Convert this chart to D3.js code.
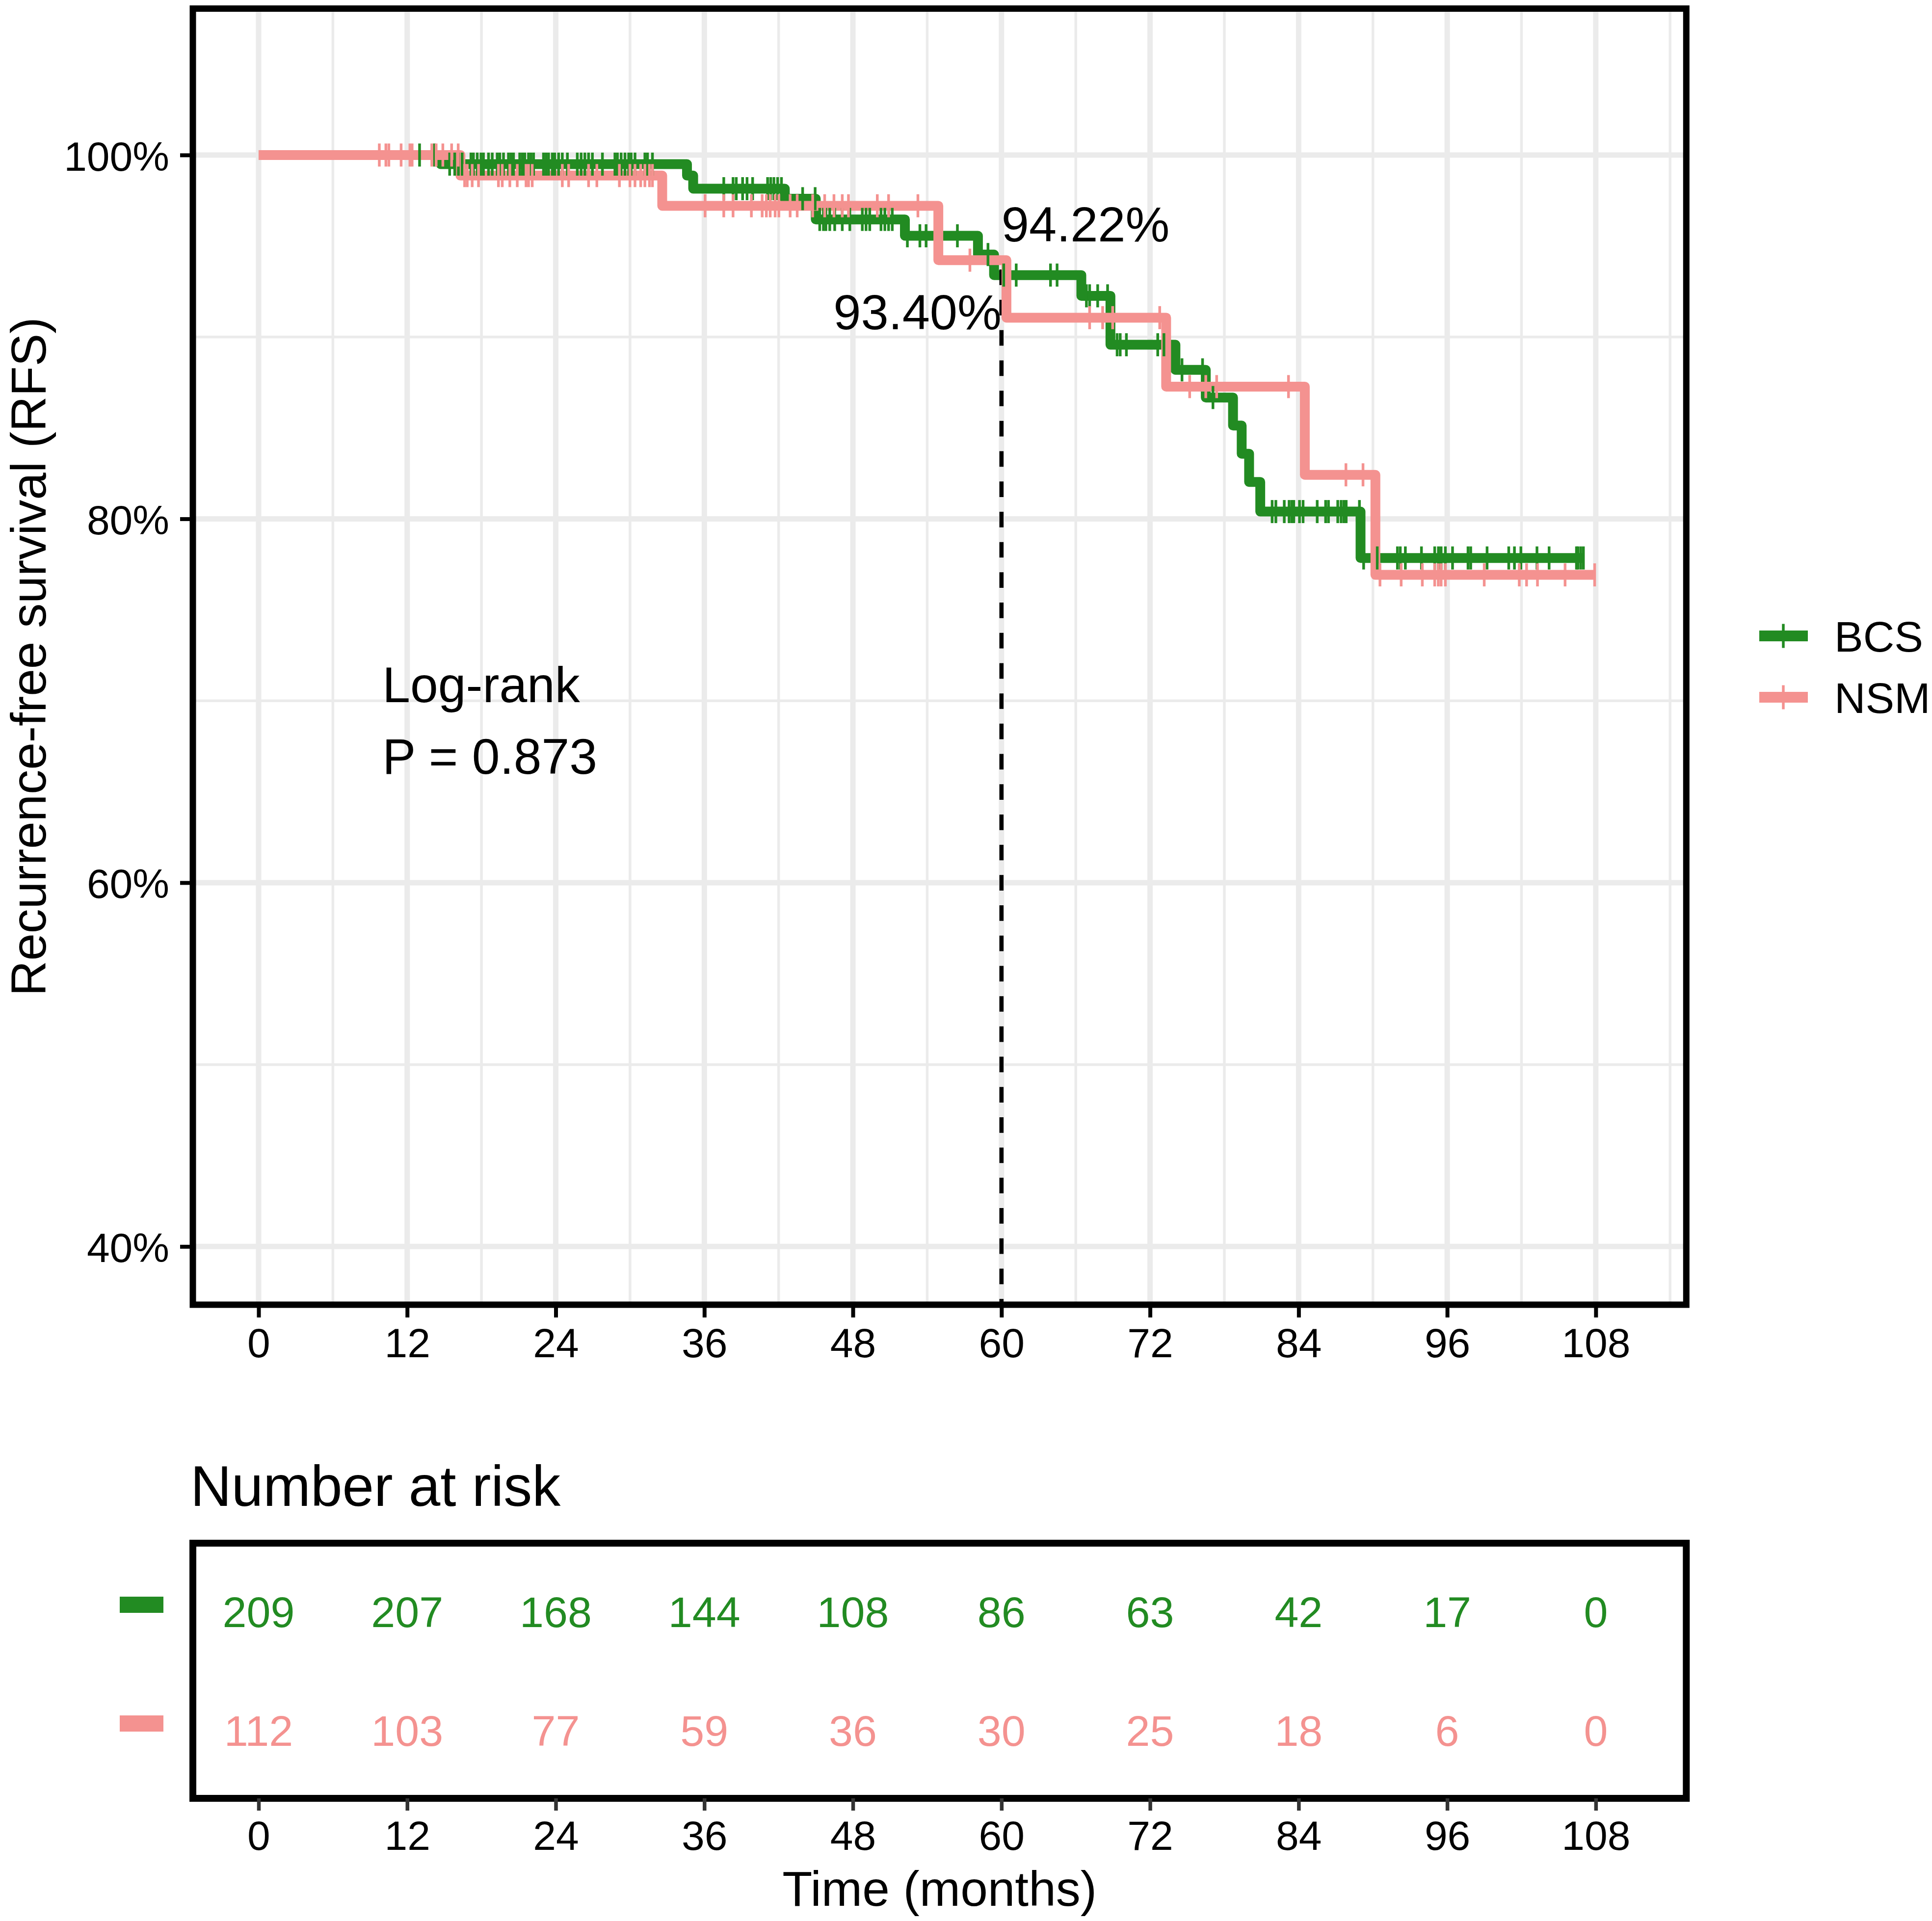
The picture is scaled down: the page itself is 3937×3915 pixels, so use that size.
<!DOCTYPE html>
<html>
<head>
<meta charset="utf-8">
<script src="https://cdn.jsdelivr.net/npm/d3@7"></script>
<style>
  body { margin: 0; background: #fff; }
  svg { display: block; font-family: "Liberation Sans", Arial, Helvetica, sans-serif; }
</style>
</head>
<body>
<div id="chart"></div>
<script>
// frame
const FRAME_WIDTH = 3937;
const FRAME_HEIGHT = 3915;

// colours of the two groups
const GREEN = "#228B22";
const PINK = "#F49290";

// ---- data ----
const groups = ["BCS", "NSM"];

// step curves: time (months) and survival (%) after each step
const bcsTime = [0, 14.7, 34.6, 35.1, 42.5, 45.0, 52.2, 58.1, 59.4, 66.45, 68.8, 74.05, 76.5, 78.7, 79.4, 80.0, 80.9, 89.0, 107.0];
const bcsSurv = [100, 99.50, 98.87, 98.15, 97.60, 96.46, 95.56, 94.53, 93.40, 92.26, 89.57, 88.19, 86.67, 85.13, 83.58, 82.03, 80.40, 77.85, 77.85];

const nsmTime = [0, 16.3, 32.6, 54.9, 60.4, 73.3, 84.5, 90.2, 108.0];
const nsmSurv = [100, 98.87, 97.21, 94.22, 91.06, 87.27, 82.42, 76.92, 76.92];

// censored times
const bcsCensor = [13.0, 14.2,
  15.43, 15.84, 16.14, 16.44, 17.15, 17.35, 17.66, 17.96, 18.16, 18.57, 18.87, 19.27, 19.48, 19.78,
  20.18, 20.39, 20.59, 21.09, 21.3, 21.5, 21.8, 22.0, 22.21, 23.01, 23.22, 23.42, 23.72, 23.92,
  24.23, 24.53, 24.94, 25.74, 26.05, 26.35, 26.65, 26.96, 27.77, 28.78, 28.98, 29.28, 29.59,
  29.89, 30.09, 30.4, 31.2, 31.41, 31.81,
  37.57, 38.32, 38.58, 39.09, 39.45, 39.9, 41.11, 41.36, 41.62, 41.92, 42.23,
  43.94, 44.95,
  45.32, 45.62, 45.82, 46.13, 46.53, 47.14, 47.75, 48.76, 49.06, 49.36, 50.27, 50.58, 50.88, 51.18,
  52.4, 53.41, 53.91, 56.44,
  58.91,
  60.18, 61.19, 63.96, 64.49,
  66.86, 67.12, 67.77, 68.57,
  69.34, 69.59, 70.09, 72.62, 73.12,
  74.58, 76.24, 77.08,
  81.86, 82.16, 82.84, 83.23, 83.45, 83.61, 84.07, 84.36, 85.5, 86.18, 86.41, 87.16, 87.43, 87.66, 87.84, 88.91,
  89.25, 90.35, 91.98, 92.21, 92.62, 93.92, 94.99, 95.29, 95.51, 95.85, 96.43, 97.68, 97.9, 99.22,
  100.97, 101.43, 101.95, 103.25, 104.23, 106.44, 106.55, 106.78, 107.0];

const nsmCensor = [9.75, 10.28, 10.52, 11.51, 12.22, 12.4, 13.99, 14.34, 14.88, 15.59, 16.12,
  16.64, 16.85, 17.25, 17.76, 19.37, 19.68, 20.29, 20.89, 21.6, 21.8, 22.1, 24.53, 25.04, 26.65,
  27.32, 29.14, 29.99, 30.4, 30.86, 31.2, 31.57, 31.81,
  36.06, 37.57, 38.32, 39.8, 40.67, 41.01, 41.32, 41.72, 42.02, 42.93, 43.5, 44.75, 45.72, 46.47,
  47.14, 47.64, 49.97, 50.88, 53.25,
  57.45,
  67.12, 68.17, 68.98, 72.78,
  75.2, 76.5, 77.38, 83.18,
  87.82, 89.2,
  90.57, 92.28, 93.99, 94.99, 95.28, 95.51, 95.85, 98.99, 101.82, 102.41, 103.29, 105.52, 107.91];

// axis ticks
const xTicks = [0, 12, 24, 36, 48, 60, 72, 84, 96, 108];
const xMinor = [6, 18, 30, 42, 54, 66, 78, 90, 102, 114];
const yTicks = [40, 60, 80, 100];
const yMinor = [50, 70, 90];

// number at risk at each x tick
const bcsRisk = [209, 207, 168, 144, 108, 86, 63, 42, 17, 0];
const nsmRisk = [112, 103, 77, 59, 36, 30, 25, 18, 6, 0];

// survival at 60 months
const mark60 = {time: 60, bcs: 93.40, nsm: 94.22};

// ---- frame ----
const FRAME = d3.select("#chart")
  .append("svg")
  .attr("width", FRAME_WIDTH)
  .attr("height", FRAME_HEIGHT);

// scales (the domain already holds the panel padding)
const X_SCALE = d3.scaleLinear().domain([-5.31, 115.31]).range([393, 3436.3]);
const Y_SCALE = d3.scaleLinear().domain([36.8, 108.05]).range([2659, 17.5]);

const P_LEFT = X_SCALE.range()[0], P_RIGHT = X_SCALE.range()[1];
const P_TOP = Y_SCALE.range()[1], P_BOTTOM = Y_SCALE.range()[0];

// grid
const grid = FRAME.append("g");
grid.selectAll(".xminor").data(xMinor.filter(d => X_SCALE(d) < P_RIGHT)).enter().append("line")
  .attr("x1", d => X_SCALE(d)).attr("x2", d => X_SCALE(d))
  .attr("y1", P_TOP).attr("y2", P_BOTTOM)
  .attr("stroke", "#EBEBEB").attr("stroke-width", 5.5);
grid.selectAll(".yminor").data(yMinor).enter().append("line")
  .attr("y1", d => Y_SCALE(d)).attr("y2", d => Y_SCALE(d))
  .attr("x1", P_LEFT).attr("x2", P_RIGHT)
  .attr("stroke", "#EBEBEB").attr("stroke-width", 5.5);
grid.selectAll(".xmajor").data(xTicks).enter().append("line")
  .attr("x1", d => X_SCALE(d)).attr("x2", d => X_SCALE(d))
  .attr("y1", P_TOP).attr("y2", P_BOTTOM)
  .attr("stroke", "#EBEBEB").attr("stroke-width", 11);
grid.selectAll(".ymajor").data(yTicks).enter().append("line")
  .attr("y1", d => Y_SCALE(d)).attr("y2", d => Y_SCALE(d))
  .attr("x1", P_LEFT).attr("x2", P_RIGHT)
  .attr("stroke", "#EBEBEB").attr("stroke-width", 11);

// step lines
const stepLine = d3.line()
  .x(d => X_SCALE(d[0]))
  .y(d => Y_SCALE(d[1]))
  .curve(d3.curveStepAfter);

const bcsPts = d3.zip(bcsTime, bcsSurv);
const nsmPts = d3.zip(nsmTime, nsmSurv);

function survAt(times, surv, t) {
  let i = d3.bisectRight(times, t) - 1;
  return surv[Math.max(0, i)];
}

FRAME.append("path")
  .attr("d", stepLine(bcsPts))
  .attr("fill", "none").attr("stroke", GREEN).attr("stroke-width", 20)
  .attr("stroke-linejoin", "round");

// dashed line at 60 months
const dashTop = Y_SCALE(mark60.nsm);
FRAME.append("line")
  .attr("x1", X_SCALE(mark60.time)).attr("x2", X_SCALE(mark60.time))
  .attr("y1", dashTop).attr("y2", P_BOTTOM)
  .attr("stroke", "black").attr("stroke-width", 8.5)
  .attr("stroke-dasharray", "31.7 30")
  .attr("stroke-dashoffset", 42.6);

FRAME.append("path")
  .attr("d", stepLine(nsmPts))
  .attr("fill", "none").attr("stroke", PINK).attr("stroke-width", 20)
  .attr("stroke-linejoin", "round");

// censor marks (the "+" crossbar sits inside the line, so only the upright shows)
function tickPath(cx, cy, h) {
  return "M" + cx + "," + (cy - h) + "V" + (cy + h);
}

FRAME.append("g").selectAll("path")
  .data(bcsCensor).enter().append("path")
  .attr("d", d => tickPath(X_SCALE(d), Y_SCALE(survAt(bcsTime, bcsSurv, d)), 23.5))
  .attr("stroke", GREEN).attr("stroke-width", 5.5).attr("fill", "none");

FRAME.append("g").selectAll("path")
  .data(nsmCensor).enter().append("path")
  .attr("d", d => tickPath(X_SCALE(d), Y_SCALE(survAt(nsmTime, nsmSurv, d)), 23.5))
  .attr("stroke", PINK).attr("stroke-width", 5.5).attr("fill", "none");

// panel border
FRAME.append("rect")
  .attr("x", P_LEFT).attr("y", P_TOP)
  .attr("width", P_RIGHT - P_LEFT).attr("height", P_BOTTOM - P_TOP)
  .attr("fill", "none").attr("stroke", "black").attr("stroke-width", 13);

// axes
const xAxis = FRAME.append("g")
  .attr("transform", "translate(0," + P_BOTTOM + ")")
  .call(d3.axisBottom(X_SCALE).tickValues(xTicks).tickSize(26).tickPadding(21));
const yAxis = FRAME.append("g")
  .attr("transform", "translate(" + P_LEFT + ",0)")
  .call(d3.axisLeft(Y_SCALE).tickValues(yTicks).tickSize(26).tickPadding(22)
    .tickFormat(d => d + "%"));

[xAxis, yAxis].forEach(a => {
  a.select(".domain").remove();
  a.selectAll("line").attr("stroke", "black").attr("stroke-width", 8);
  a.selectAll("text").attr("font-size", 84).attr("fill", "black")
    .attr("font-family", "Liberation Sans, Arial, sans-serif");
});
yAxis.selectAll("text").attr("dy", "0.37em");

// axis title
FRAME.append("text")
  .attr("transform", "translate(93," + ((P_TOP + P_BOTTOM) / 2) + ") rotate(-90)")
  .attr("text-anchor", "middle")
  .attr("font-size", 100)
  .text("Recurrence-free survival (RFS)");

// annotations
FRAME.append("text")
  .attr("x", X_SCALE(mark60.time)).attr("y", Y_SCALE(mark60.nsm + 2)).attr("dy", "0.36em")
  .attr("text-anchor", "start").attr("font-size", 101)
  .text(mark60.nsm.toFixed(2) + "%");
FRAME.append("text")
  .attr("x", X_SCALE(mark60.time)).attr("y", Y_SCALE(mark60.bcs - 2)).attr("dy", "0.36em")
  .attr("text-anchor", "end").attr("font-size", 101)
  .text(mark60.bcs.toFixed(2) + "%");

const pText = FRAME.append("text")
  .attr("x", X_SCALE(10)).attr("y", Y_SCALE(70) + 3)
  .attr("font-size", 102);
pText.append("tspan").attr("x", X_SCALE(10)).text("Log-rank");
pText.append("tspan").attr("x", X_SCALE(10)).attr("dy", 146).text("P = 0.873");

// legend
const legendY = d3.scalePoint().domain(groups).range([1296, 1421]);
const legendColor = d3.scaleOrdinal().domain(groups).range([GREEN, PINK]);
const legend = FRAME.append("g");
groups.forEach(g => {
  const ly = legendY(g);
  legend.append("line")
    .attr("x1", 3585).attr("x2", 3684).attr("y1", ly).attr("y2", ly)
    .attr("stroke", legendColor(g)).attr("stroke-width", 22);
  legend.append("line")
    .attr("x1", 3634).attr("x2", 3634).attr("y1", ly - 24.5).attr("y2", ly + 24.5)
    .attr("stroke", legendColor(g)).attr("stroke-width", 5.5);
  legend.append("text")
    .attr("x", 3738).attr("y", ly).attr("dy", "0.36em")
    .attr("font-size", 88)
    .text(g);
});

// ---- risk table ----
const T_TOP = 3145, T_BOTTOM = 3665;
const ROW_SCALE = d3.scalePoint().domain(groups).range([3284, 3526]);

FRAME.append("text")
  .attr("x", 388).attr("y", 3069)
  .attr("font-size", 116)
  .text("Number at risk");

FRAME.append("rect")
  .attr("x", P_LEFT).attr("y", T_TOP)
  .attr("width", P_RIGHT - P_LEFT).attr("height", T_BOTTOM - T_TOP)
  .attr("fill", "none").attr("stroke", "black").attr("stroke-width", 14);

const riskRows = [["BCS", bcsRisk], ["NSM", nsmRisk]];
riskRows.forEach(r => {
  FRAME.append("g").selectAll("text")
    .data(d3.zip(xTicks, r[1])).enter().append("text")
    .attr("x", d => X_SCALE(d[0]))
    .attr("y", ROW_SCALE(r[0])).attr("dy", "0.36em")
    .attr("text-anchor", "middle")
    .attr("font-size", 88)
    .attr("fill", legendColor(r[0]))
    .text(d => d[1]);
  // colour key in place of the row label
  FRAME.append("rect")
    .attr("x", 244).attr("y", ROW_SCALE(r[0]) - 30)
    .attr("width", 89).attr("height", 33)
    .attr("fill", legendColor(r[0]));
});

const tAxis = FRAME.append("g")
  .attr("transform", "translate(0," + T_BOTTOM + ")")
  .call(d3.axisBottom(X_SCALE).tickValues(xTicks).tickSize(25).tickPadding(20));
tAxis.select(".domain").remove();
tAxis.selectAll("line").attr("stroke", "#333333").attr("stroke-width", 7.5);
tAxis.selectAll("text").attr("font-size", 84).attr("fill", "black")
  .attr("font-family", "Liberation Sans, Arial, sans-serif");

FRAME.append("text")
  .attr("x", (P_LEFT + P_RIGHT) / 2).attr("y", 3884)
  .attr("text-anchor", "middle")
  .attr("font-size", 100)
  .text("Time (months)");
</script>
</body>
</html>
